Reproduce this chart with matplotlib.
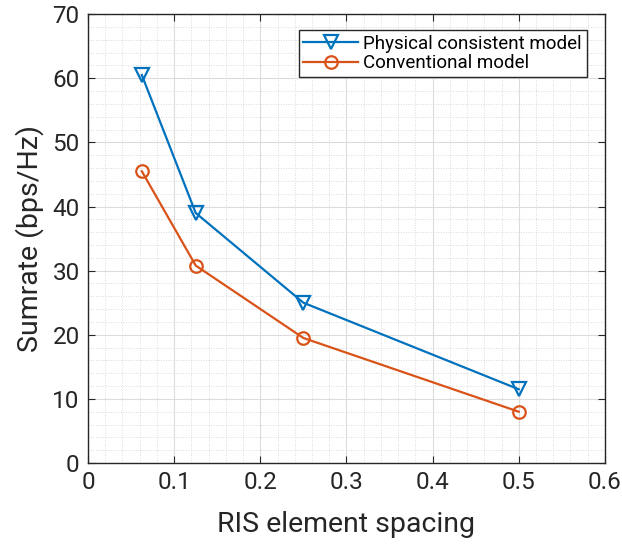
import matplotlib.pyplot as plt
from matplotlib.ticker import MultipleLocator

plt.rcParams['font.family'] = ['Roboto', 'DejaVu Sans']

# Data
spacing = [0.0625, 0.125, 0.25, 0.5]
physical = [60.5, 39.0, 25.0, 11.5]
conventional = [45.5, 30.8, 19.5, 8.0]
xticks = [0, 0.1, 0.2, 0.3, 0.4, 0.5, 0.6]
xticklabels = ['0', '0.1', '0.2', '0.3', '0.4', '0.5', '0.6']
yticks = [0, 10, 20, 30, 40, 50, 60, 70]

blue = '#0072BD'
orange = '#D95319'

fig = plt.figure(figsize=(6.22, 5.46), dpi=100)
ax = fig.add_axes([0.1415, 0.152, 0.831, 0.822])

ax.plot(spacing, physical, color=blue, lw=1.6, marker='v', ms=10,
        mfc='none', mew=1.6, label='Physical consistent model')
ax.plot(spacing, conventional, color=orange, lw=1.6, marker='o', ms=9,
        mfc='none', mew=1.6, label='Conventional model')

ax.set_xlim(0, 0.6)
ax.set_ylim(0, 70)
ax.set_xticks(xticks)
ax.set_xticklabels(xticklabels)
ax.set_yticks(yticks)
ax.xaxis.set_minor_locator(MultipleLocator(0.02))
ax.yaxis.set_minor_locator(MultipleLocator(2))

ax.grid(which='major', color='#dcdcdc', lw=0.8)
ax.grid(which='minor', color='#cfcfcf', lw=0.6, ls=(0, (1, 2)))
ax.set_axisbelow(True)

ax.tick_params(which='both', direction='in', top=True, right=True,
               labelsize=17.5, colors='#262626', pad=6)
ax.tick_params(which='major', length=5)
ax.tick_params(which='minor', length=0)
for s in ax.spines.values():
    s.set_color('#262626')
    s.set_linewidth(1.0)

ax.set_xlabel('RIS element spacing', fontsize=20.5, color='#262626', labelpad=12)
ax.set_ylabel('Sumrate (bps/Hz)', fontsize=20.5, color='#262626', labelpad=6)

leg = ax.legend(loc='upper right', bbox_to_anchor=(0.965, 0.965), fontsize=13.5,
                fancybox=False, framealpha=1, edgecolor='#262626',
                borderpad=0.25, labelspacing=0.1, handlelength=2.9,
                handletextpad=0.3, borderaxespad=0)
leg.get_frame().set_linewidth(1.0)

fig.savefig('out.png', dpi=100)
